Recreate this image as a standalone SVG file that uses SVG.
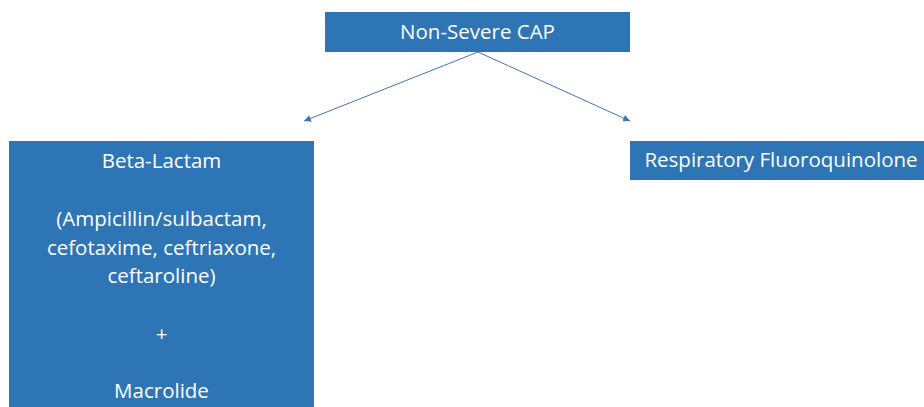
<svg xmlns="http://www.w3.org/2000/svg" width="924" height="407" viewBox="0 0 924 407">
<style>
.box{fill:#2E75B6;}
.t{font-family:"Open Sans","Noto Sans",sans-serif;font-size:20.5px;fill:#ffffff;text-anchor:middle;}
.c{stroke:#4472C4;stroke-width:1;fill:none;}
</style>
<defs>
<marker id="ah" viewBox="0 0 10 10" refX="10" refY="5" markerWidth="7" markerHeight="7" orient="auto" markerUnits="userSpaceOnUse">
<path d="M0,0 L10,5 L0,10 z" fill="#4472C4"/>
</marker>
</defs>
<g id="connectors">
<line class="c" x1="478" y1="52" x2="304" y2="121" marker-end="url(#ah)"/>
<line class="c" x1="478" y1="52" x2="630" y2="121" marker-end="url(#ah)"/>
</g>
<g id="top">
<rect class="box" x="325" y="12" width="305" height="40"/>
<text class="t" x="477.5" y="39">Non-Severe CAP</text>
</g>
<g id="left">
<rect class="box" x="9" y="141" width="305" height="270"/>
<text class="t" x="161.5" y="168">Beta-Lactam</text>
<text class="t" x="161.5" y="226">(Ampicillin/sulbactam,</text>
<text class="t" x="161.5" y="254.5">cefotaxime, ceftriaxone,</text>
<text class="t" x="161.5" y="283">ceftaroline)</text>
<text class="t" x="161.5" y="340.5">+</text>
<text class="t" x="161.5" y="398">Macrolide</text>
</g>
<g id="right">
<rect class="box" x="630" y="141" width="305" height="39"/>
<text class="t" x="781" y="167">Respiratory Fluoroquinolone</text>
</g>
</svg>
